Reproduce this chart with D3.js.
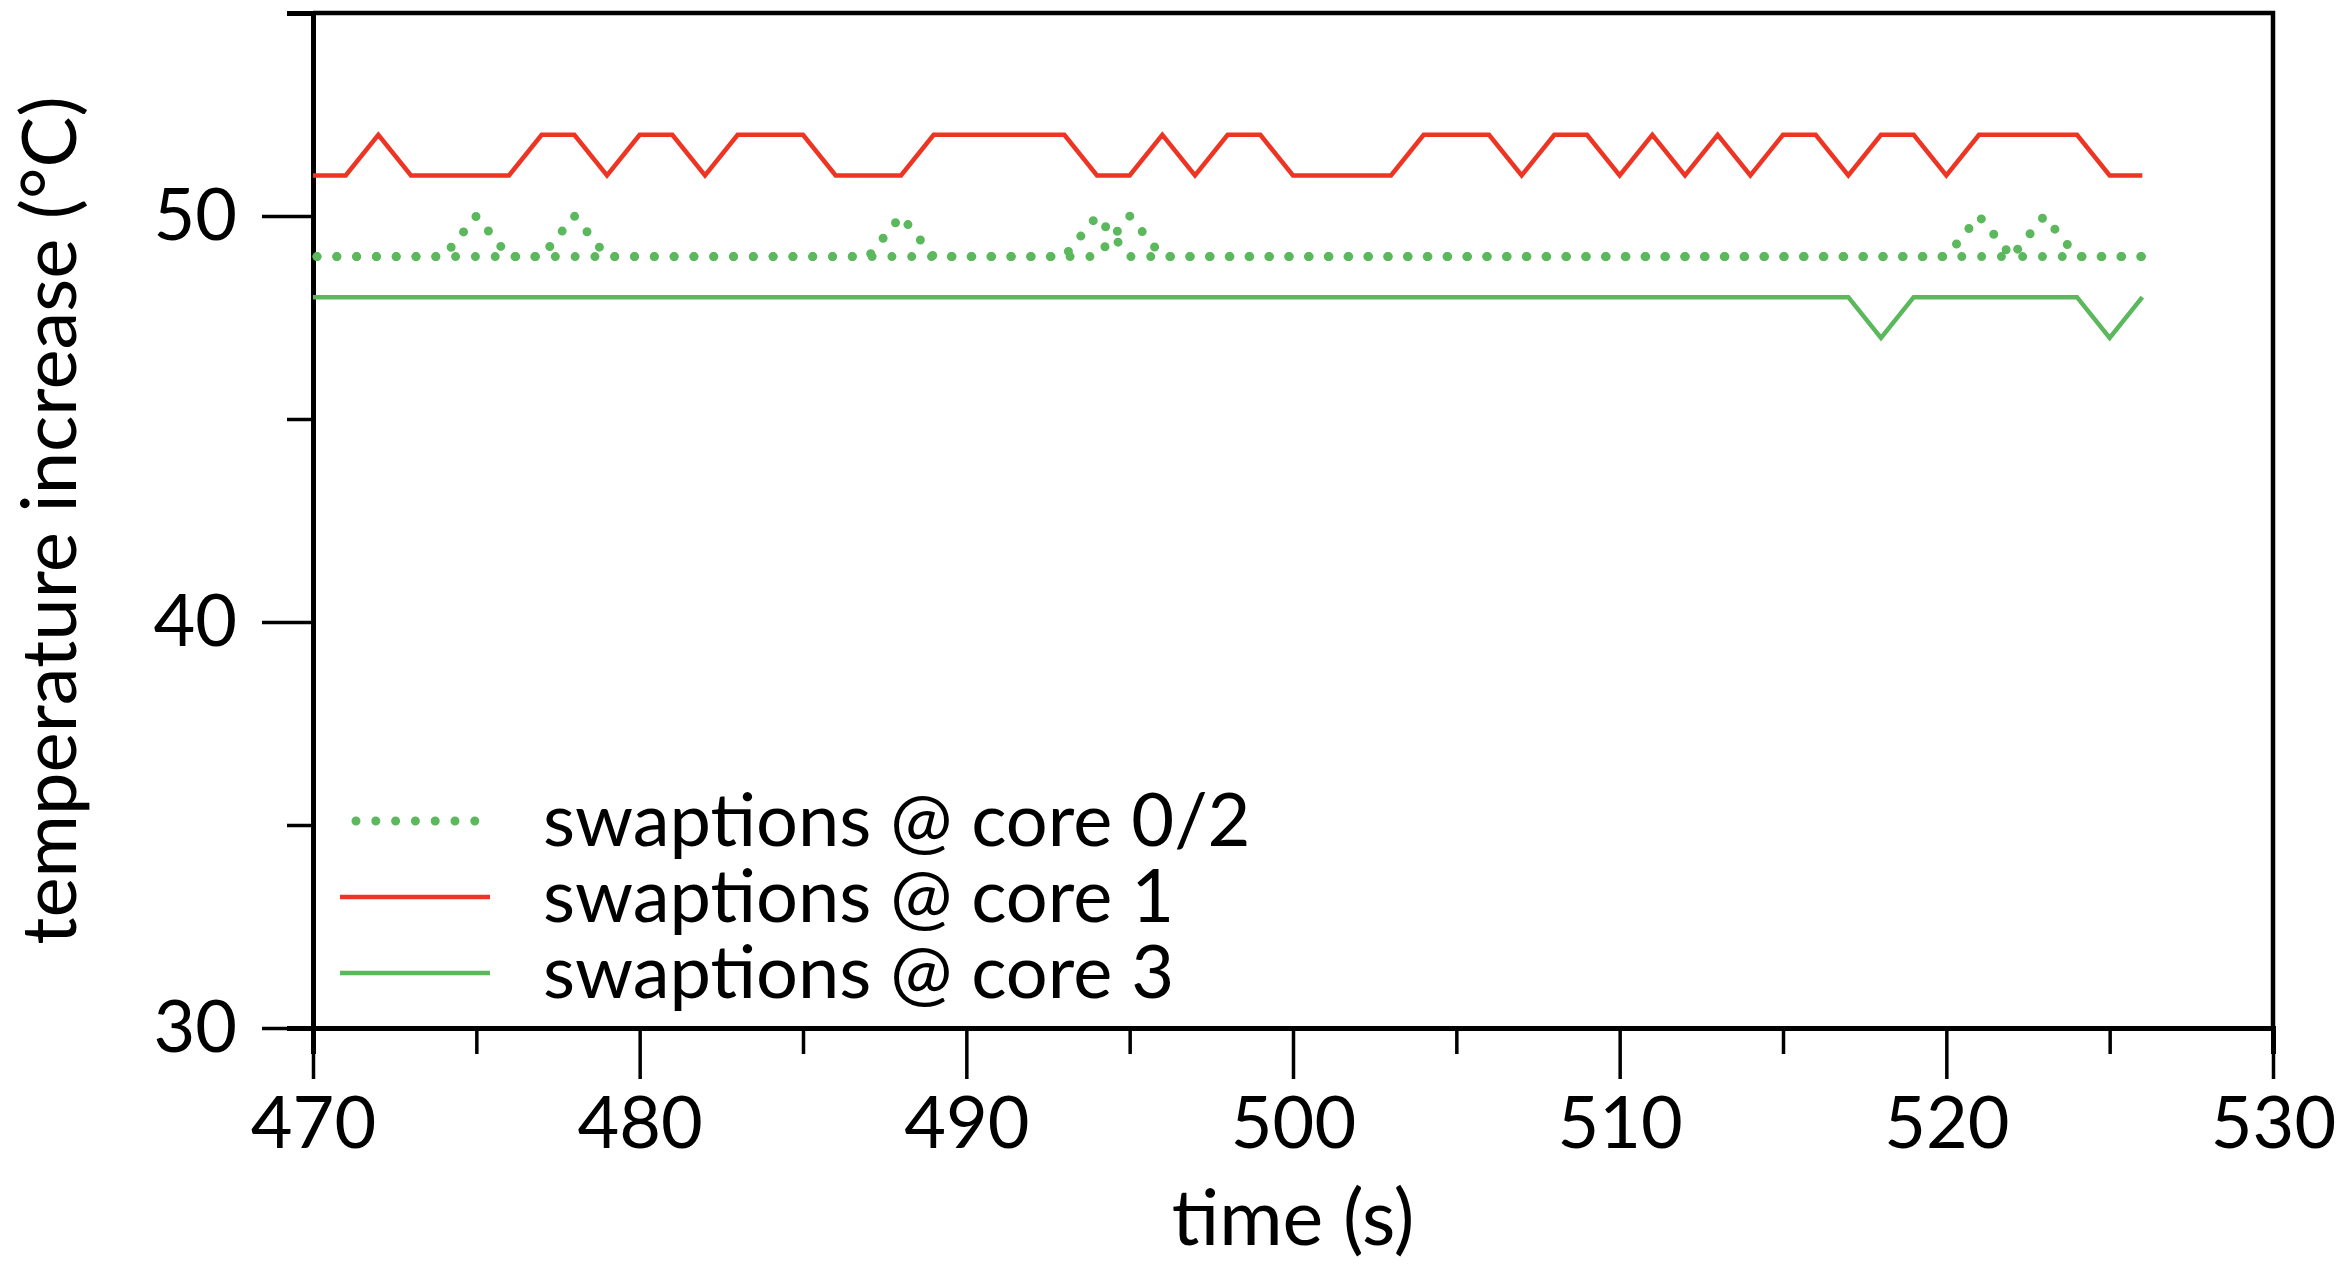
<!DOCTYPE html>
<html>
<head>
<meta charset="utf-8">
<script src="https://cdn.jsdelivr.net/npm/d3@7"></script>
<style>
  html, body { margin: 0; padding: 0; background: #fff; }
  svg { display: block; font-family: Lato, "Open Sans", sans-serif; }
</style>
</head>
<body>
<svg id="chart" width="2350" height="1264"></svg>
<script>
// time axis, one sample per second
const times = d3.range(470, 527);

// swaptions @ core 1
const core1 = [51, 51, 52, 51, 51, 51, 51, 52, 52, 51,
               52, 52, 51, 52, 52, 52, 51, 51, 51, 52,
               52, 52, 52, 52, 51, 51, 52, 51, 52, 52,
               51, 51, 51, 51, 52, 52, 52, 51, 52, 52,
               51, 52, 51, 52, 51, 52, 52, 51, 52, 52,
               51, 52, 52, 52, 52, 51, 51];

// swaptions @ core 0 and core 2 share the dotted style
const core0 = [49, 49, 49, 49, 49, 50, 49, 49, 49, 49,
               49, 49, 49, 49, 49, 49, 49, 49, 50, 49,
               49, 49, 49, 49, 50, 49, 49, 49, 49, 49,
               49, 49, 49, 49, 49, 49, 49, 49, 49, 49,
               49, 49, 49, 49, 49, 49, 49, 49, 49, 49,
               49, 50, 49, 49, 49, 49, 49];
const core2 = [49, 49, 49, 49, 49, 49, 49, 49, 50, 49,
               49, 49, 49, 49, 49, 49, 49, 49, 49, 49,
               49, 49, 49, 49, 49, 50, 49, 49, 49, 49,
               49, 49, 49, 49, 49, 49, 49, 49, 49, 49,
               49, 49, 49, 49, 49, 49, 49, 49, 49, 49,
               49, 49, 49, 50, 49, 49, 49];

// swaptions @ core 3
const core3 = [48, 48, 48, 48, 48, 48, 48, 48, 48, 48,
               48, 48, 48, 48, 48, 48, 48, 48, 48, 48,
               48, 48, 48, 48, 48, 48, 48, 48, 48, 48,
               48, 48, 48, 48, 48, 48, 48, 48, 48, 48,
               48, 48, 48, 48, 48, 48, 48, 48, 47, 48,
               48, 48, 48, 48, 48, 47, 48];

const xMajor = [470, 480, 490, 500, 510, 520, 530];
const xMinor = [475, 485, 495, 505, 515, 525];
const yMajor = [30, 40, 50];
const yMinor = [35, 45, 55];

const legendLabels = ['swaptions @ core 0/2', 'swaptions @ core 1', 'swaptions @ core 3'];

const RED = '#ee3524';
const GREEN = '#5cb85c';

const margin = { left: 313, top: 13, right: 77, bottom: 236 };
const svg = d3.select('#chart');
const W = +svg.attr('width'), H = +svg.attr('height');
const width = W - margin.left - margin.right;
const height = H - margin.top - margin.bottom;

const x = d3.scaleLinear().domain([470, 530]).range([0, width]);
const y = d3.scaleLinear().domain([30, 55]).range([height, 0]);

const g = svg.append('g').attr('transform', `translate(${margin.left},${margin.top})`);

// frame (top + right)
g.append('path')
    .attr('d', `M0,0H${width}V${height}`)
    .attr('fill', 'none')
    .attr('stroke', '#000')
    .attr('stroke-width', 4.5);

function styleAxis(sel, fontSize) {
    sel.select('.domain').attr('stroke-width', 5);
    sel.selectAll('.tick line').attr('stroke-width', 3.5);
    sel.selectAll('.tick text')
        .attr('font-size', fontSize)
        .attr('font-family', 'Lato, "Open Sans", sans-serif')
        .attr('fill', '#000');
}

// minor ticks first, major axis on top
g.append('g')
    .attr('transform', `translate(0,${height})`)
    .call(d3.axisBottom(x).tickValues(xMinor).tickSize(26).tickFormat(''))
    .call(styleAxis, 72);
g.append('g')
    .call(d3.axisLeft(y).tickValues(yMinor).tickSize(26).tickFormat(''))
    .call(styleAxis, 72);

const xAxisG = g.append('g')
    .attr('transform', `translate(0,${height})`)
    .call(d3.axisBottom(x).tickValues(xMajor).tickSize(51).tickSizeOuter(0).tickPadding(18))
    .call(styleAxis, 72);
xAxisG.selectAll('.tick text').attr('dy', '0.71em');

g.append('g')
    .call(d3.axisLeft(y).tickValues(yMajor).tickSize(51).tickSizeOuter(0).tickPadding(25))
    .call(styleAxis, 72);

// axis titles
svg.append('text')
    .attr('x', margin.left + width / 2)
    .attr('y', 1245)
    .attr('text-anchor', 'middle')
    .attr('font-size', 77)
    .text('time (s)');

svg.append('text')
    .attr('transform', `translate(76,${margin.top + height / 2}) rotate(-90)`)
    .attr('text-anchor', 'middle')
    .attr('font-size', 76)
    .text('temperature increase (°C)');

// series
const line = d3.line()
    .x((d, i) => x(times[i]))
    .y(d => y(d));

const series = [
    { values: core0, color: GREEN, dotted: true },
    { values: core2, color: GREEN, dotted: true },
    { values: core3, color: GREEN, dotted: false },
    { values: core1, color: RED, dotted: false }
];

function styleStroke(sel, s) {
    sel.attr('fill', 'none')
        .attr('stroke', s.color)
        .attr('stroke-linejoin', 'miter');
    if (s.dotted) {
        sel.attr('stroke-width', 9)
            .attr('stroke-linecap', 'round')
            .attr('stroke-dasharray', '0,19.8')
            .attr('stroke-dashoffset', -4);
    } else {
        sel.attr('stroke-width', 4.5);
    }
}

series.forEach(s => {
    g.append('path')
        .attr('d', line(s.values))
        .call(styleStroke, s);
});

// legend
const legendItems = [
    { label: legendLabels[0], color: GREEN, dotted: true },
    { label: legendLabels[1], color: RED, dotted: false },
    { label: legendLabels[2], color: GREEN, dotted: false }
];
const legend = svg.append('g').attr('transform', 'translate(0,821)');
legendItems.forEach((item, i) => {
    const row = legend.append('g').attr('transform', `translate(0,${i * 76})`);
    row.append('path')
        .attr('d', item.dotted ? 'M356,0H476' : 'M340,0H490')
        .call(styleStroke, item)
        .attr('stroke-dashoffset', 0);
    row.append('text')
        .attr('x', 543)
        .attr('y', 25)
        .attr('font-size', 74)
        .text(item.label);
});
</script>
</body>
</html>
